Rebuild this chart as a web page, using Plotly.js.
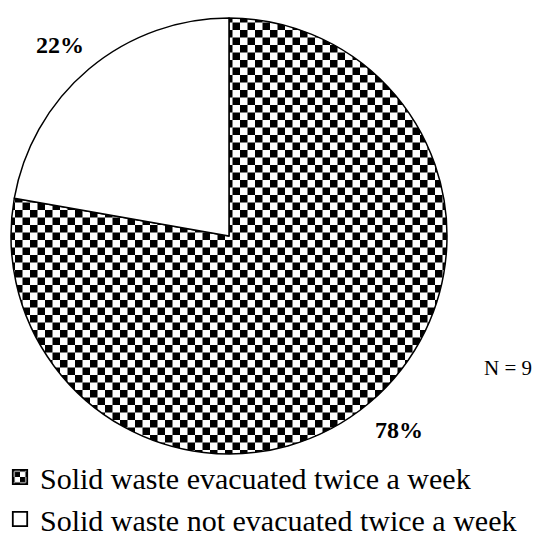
<!DOCTYPE html>
<html>
<head>
<meta charset="utf-8">
<script src="https://cdn.plot.ly/plotly-3.0.1.min.js"></script>
<style>html,body{margin:0;padding:0;background:#fff;}#chart{width:533px;height:533px;}</style>
</head>
<body>
<div id="chart"></div>
<script>
// Data
const categories = ["Solid waste evacuated twice a week", "Solid waste not evacuated twice a week"];
const counts = [7, 2];
const sampleNote = "N = 9";

const SERIF = "'Liberation Serif', 'Times New Roman', Times, 'DejaVu Serif', serif";

const total = counts.reduce(function(a, b){ return a + b; }, 0);
const pctText = counts.map(function(v){ return Math.round(100 * v / total) + '%'; });
// label anchor positions (paper fractions) for each slice's percentage
const labelPos = [[399/533, 1 - 430/533], [60/533, 1 - 45/533]];

const trace = {
  type: 'pie',
  labels: categories,
  values: counts,
  sort: false,
  direction: 'clockwise',
  rotation: 0,
  domain: {x: [11/533, 447/533], y: [1 - 455/533, 1 - 17/533]},
  marker: {colors: ['#000000', '#ffffff'], line: {color: '#000000', width: 1.5}},
  textinfo: 'none',
  textposition: 'none',
  automargin: false,
  hoverinfo: 'none',
  showlegend: true
};

const annotations = pctText.map(function(t, i){
  return {
    text: t, xref: 'paper', yref: 'paper',
    x: labelPos[i][0], y: labelPos[i][1], xanchor: 'center', yanchor: 'middle',
    showarrow: false,
    font: {family: SERIF, size: 24, color: '#000000', weight: 'bold'}
  };
});
annotations.push({
  text: sampleNote, xref: 'paper', yref: 'paper',
  x: 508/533, y: 1 - 368/533, xanchor: 'center', yanchor: 'middle',
  showarrow: false,
  font: {family: SERIF, size: 21, color: '#000000'}
});

const layout = {
  width: 533, height: 533,
  margin: {l: 0, r: 0, t: 0, b: 0, pad: 0, autoexpand: false},
  paper_bgcolor: '#ffffff',
  plot_bgcolor: '#ffffff',
  font: {family: SERIF, color: '#000000'},
  showlegend: true,
  legend: {
    x: 0, xanchor: 'left', y: 1 - 451/533, yanchor: 'top',
    orientation: 'v',
    font: {family: SERIF, size: 30, color: '#000000'},
    bgcolor: 'rgba(0,0,0,0)'
  },
  annotations: annotations
};

Plotly.newPlot('chart', [trace], layout, {staticPlot: true}).then(function(gd){
  const svgNS = 'http://www.w3.org/2000/svg';
  const svg = gd.querySelector('svg.main-svg');
  let defs = svg.querySelector('defs');
  if (!defs) { defs = document.createElementNS(svgNS, 'defs'); svg.insertBefore(defs, svg.firstChild); }
  function makePattern(id, cell) {
    const p = document.createElementNS(svgNS, 'pattern');
    p.setAttribute('id', id);
    p.setAttribute('patternUnits', 'userSpaceOnUse');
    p.setAttribute('width', 2*cell);
    p.setAttribute('height', 2*cell);
    const bg = document.createElementNS(svgNS, 'rect');
    bg.setAttribute('width', 2*cell); bg.setAttribute('height', 2*cell); bg.setAttribute('fill', '#fff');
    p.appendChild(bg);
    [[0,0],[cell,cell]].forEach(function(o){
      const r = document.createElementNS(svgNS, 'rect');
      r.setAttribute('x', o[0]); r.setAttribute('y', o[1]);
      r.setAttribute('width', cell); r.setAttribute('height', cell);
      r.setAttribute('fill', '#000');
      p.appendChild(r);
    });
    defs.appendChild(p);
  }
  makePattern('checker', 7.5);
  makePattern('checkerSmall', 4.5);
  const slices = gd.querySelectorAll('g.slice path.surface');
  if (slices.length) slices[0].style.fill = 'url(#checker)';
  const leg = gd.querySelectorAll('g.legend g.traces');
  leg.forEach(function(g, i){
    const p = g.querySelector('g.legendpoints path');
    if (!p) return;
    const tr = p.getAttribute('transform') || '';
    p.setAttribute('transform', tr + ' scale(1.2)');
    p.style.strokeWidth = '1.5px';
    if (i === 0) p.style.fill = 'url(#checkerSmall)';
  });
});
</script>
</body>
</html>
